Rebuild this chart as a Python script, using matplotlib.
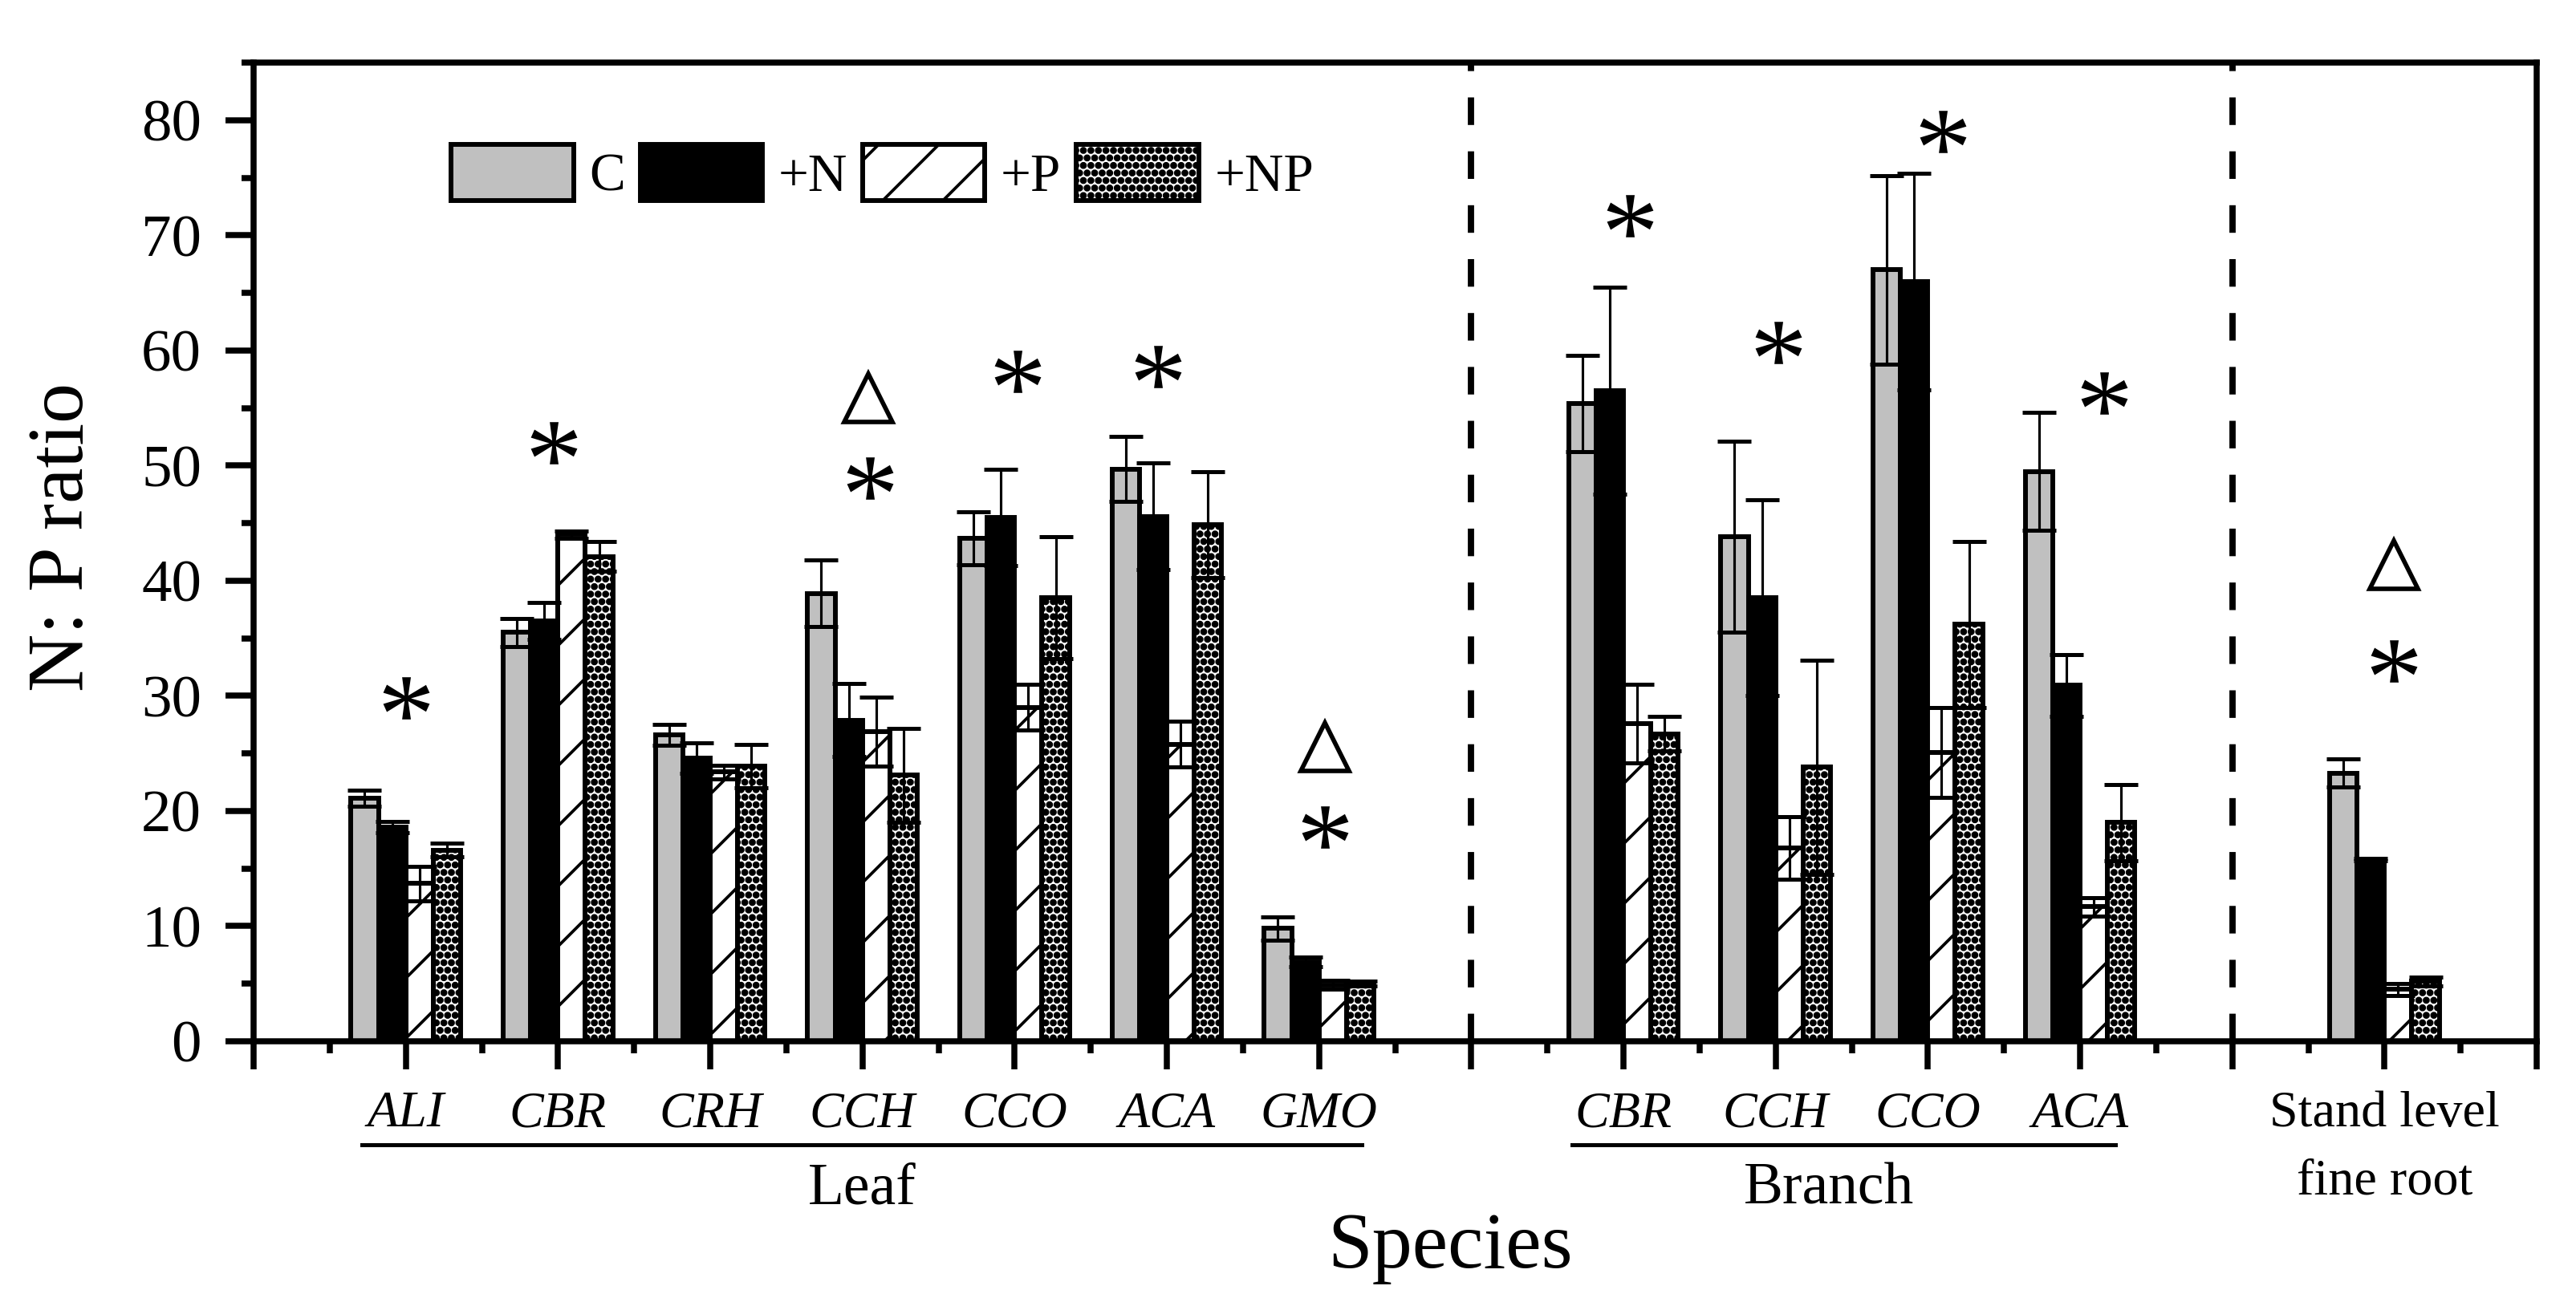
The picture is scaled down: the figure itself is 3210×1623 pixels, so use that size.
import numpy as np
import matplotlib
matplotlib.use('Agg')
import matplotlib.pyplot as plt
import matplotlib.hatch
import matplotlib.transforms as mtransforms
from matplotlib.ticker import MultipleLocator


# N:P ratio per species / tissue, mean and error bar for each treatment
leaf_species = ['ALI', 'CBR', 'CRH', 'CCH', 'CCO', 'ACA', 'GMO']
branch_species = ['CBR', 'CCH', 'CCO', 'ACA']
root_label = 'Stand level\nfine root'
treatments = ['C', '+N', '+P', '+NP']

# order: 7 leaf, 4 branch, 1 fine root
c_mean = [21.1, 35.5, 26.6, 38.9, 43.7, 49.7, 9.8, 55.4, 43.8, 67.0, 49.5, 23.3]
c_err = [0.7, 1.2, 0.9, 2.9, 2.3, 2.8, 1.0, 4.2, 8.3, 8.2, 5.1, 1.2]
n_mean = [18.6, 36.5, 24.6, 27.9, 45.5, 45.6, 6.9, 56.5, 38.5, 66.0, 30.9, 15.8]
n_err = [0.5, 1.6, 1.3, 3.2, 4.2, 4.6, 0.4, 9.0, 8.5, 9.4, 2.7, 0.1]
p_mean = [13.7, 44.0, 23.4, 26.9, 29.0, 25.8, 4.9, 27.6, 16.8, 25.1, 11.7, 4.5]
p_err = [1.5, 0.3, 0.6, 3.0, 2.0, 2.0, 0.4, 3.4, 2.7, 3.9, 0.8, 0.5]
np_mean = [16.6, 42.1, 23.9, 23.1, 38.5, 44.9, 5.0, 26.7, 23.8, 36.2, 19.0, 5.2]
np_err = [0.6, 1.3, 1.9, 4.1, 5.3, 4.6, 0.2, 1.5, 9.3, 7.2, 3.3, 0.4]

# significance marks (x in category units, y in N:P units)
star_x = [1.0, 1.97, 4.05, 5.02, 5.94, 7.04, 9.04, 10.02, 11.1, 12.16, 14.06]
star_y = [29.8, 52.0, 48.9, 58.2, 58.6, 18.6, 71.7, 60.7, 79.0, 56.3, 33.0]
tri_x = [4.04, 7.04, 14.06]
tri_y = [55.9, 25.6, 41.4]

DPI = 225
FIG_W, FIG_H = 3210, 1623
PT = DPI / 72.0  # px per point

BAR_W = 0.18
EDGE_LW = 1.9

plt.rcParams['font.family'] = ['Liberation Serif', 'DejaVu Serif']
plt.rcParams['mathtext.fontset'] = 'custom'
plt.rcParams['mathtext.rm'] = 'Liberation Serif'
plt.rcParams['hatch.linewidth'] = 1.2
# bigger dots for the '+NP' stipple so it reads like the checker pattern
matplotlib.hatch.SmallFilledCircles.size = 0.26

# category positions: leaf 1..7, gap, branch 9..12, gap, root 14
leaf_x = np.arange(1, len(leaf_species) + 1)
branch_x = leaf_x[-1] + 1 + np.arange(1, len(branch_species) + 1)
root_x = branch_x[-1] + 2
x_all = np.concatenate([leaf_x, branch_x, [root_x]])
x_max = root_x + 1

fig = plt.figure(figsize=(FIG_W / DPI, FIG_H / DPI), dpi=DPI)
ax = fig.add_axes([316 / FIG_W, 1 - 1298 / FIG_H, (3161 - 316) / FIG_W, (1298 - 78) / FIG_H])

series = [(c_mean, c_err), (n_mean, n_err), (p_mean, p_err), (np_mean, np_err)]
styles = [
    dict(color='#c0c0c0'),
    dict(color='black'),
    dict(color='white', hatch='/'),
    dict(color='white', hatch='....'),
]
offsets = (np.arange(4) - 1.5) * BAR_W
handles = []
for (mean, err), style, off in zip(series, styles, offsets):
    b = ax.bar(x_all + off, mean, BAR_W, edgecolor='black', linewidth=EDGE_LW, zorder=2, **style)
    ax.errorbar(x_all + off, mean, yerr=err, fmt='none', ecolor='black', elinewidth=1.0,
                capsize=6.6, capthick=1.6, zorder=3)
    handles.append(b)

# significance symbols
ax.plot(star_x, star_y, ls='none', marker='$*$', ms=18.5, color='black', mew=0, zorder=4)
ax.plot(tri_x, tri_y, ls='none', marker='^', ms=19, mfc='white', mec='black', mew=1.8, zorder=4)

# separators between tissues
for xs in (leaf_x[-1] + 1, branch_x[-1] + 1):
    ax.axvline(xs, color='black', lw=2.5, ls=(0, (4.4, 4.2)), zorder=1)

ax.set_xlim(0, x_max)
ax.set_ylim(0, 85)

# ticks
ticks = np.arange(0, x_max + 1)
labels = [''] * len(ticks)
for x, s in zip(leaf_x, leaf_species):
    labels[x] = s
for x, s in zip(branch_x, branch_species):
    labels[x] = s
labels[root_x] = root_label
ax.set_xticks(ticks, labels)
for t, lbl in zip(ticks, ax.get_xticklabels()):
    lbl.set_fontsize(20.5)
    if t != root_x:
        lbl.set_fontstyle('italic')
    else:
        lbl.set_linespacing(1.6)
ax.xaxis.set_minor_locator(MultipleLocator(0.5))
ax.yaxis.set_major_locator(MultipleLocator(10))
ax.yaxis.set_minor_locator(MultipleLocator(5))
ax.tick_params(which='major', direction='out', length=35 / PT, width=2.4)
ax.tick_params(which='minor', direction='out', length=15 / PT, width=2.4)
ax.tick_params(axis='x', which='major', pad=8.7)
ax.tick_params(axis='y', which='major', pad=9.6, labelsize=24)
for sp in ax.spines.values():
    sp.set_linewidth(2.4)

# tissue group labels under the species names
trans = mtransforms.blended_transform_factory(ax.transData, ax.transAxes)
y_line = -0.106
ax.plot([leaf_x[0] - 0.29, leaf_x[-1] + 0.28], [y_line, y_line], color='black', lw=1.6,
        transform=trans, clip_on=False)
ax.plot([branch_x[0] - 0.34, branch_x[-1] + 0.23], [y_line, y_line], color='black', lw=1.6,
        transform=trans, clip_on=False)
ax.text(leaf_x.mean(), -0.124, 'Leaf', transform=trans, ha='center', va='top', fontsize=23.5)
ax.text(10.35, -0.124, 'Branch', transform=trans, ha='center', va='top', fontsize=23.5)

ax.set_xlabel('Species', fontsize=32)
ax.xaxis.set_label_coords(0.524, -0.1746)
ax.set_ylabel('N: P ratio', fontsize=32, va='center')
ax.yaxis.set_label_coords(-0.0833, 0.515)

ax.legend(handles, treatments, ncol=4, loc='center left', bbox_to_anchor=(0.0865, 0.887),
          frameon=False, borderpad=0, borderaxespad=0, fontsize=21.5,
          handlelength=2.27, handleheight=1.21, handletextpad=0.29, columnspacing=0.28)

fig.savefig('out.png', dpi=DPI, facecolor='white')
